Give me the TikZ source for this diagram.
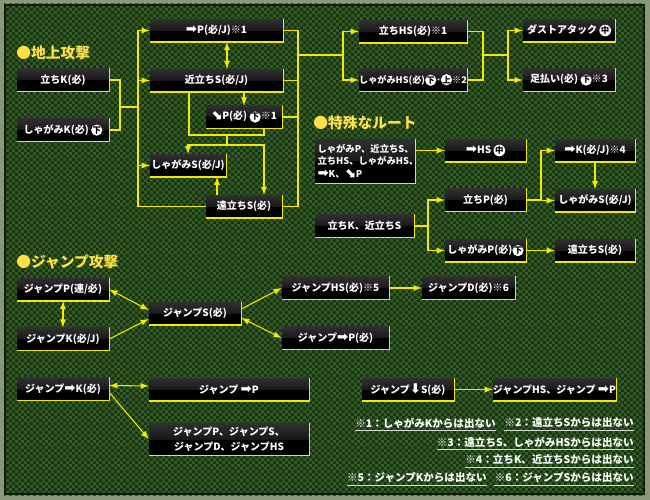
\documentclass[tikz,border=0pt]{standalone}
\usepackage{fontspec}
\setmainfont{Noto Sans CJK JP}
\newfontfamily\symfont{DejaVu Sans}
\usepackage{tikz}
\usetikzlibrary{patterns}
\definecolor{waku}{RGB}{139,151,122}
\definecolor{bgdark}{RGB}{26,52,18}
\definecolor{bgcheck}{RGB}{50,92,38}
\definecolor{hlyellow}{RGB}{242,234,0}
\definecolor{titleyellow}{RGB}{255,224,70}
\definecolor{boxshine}{RGB}{48,48,48}

\newcommand{\migi}{{\symfont\fontsize{7.6}{7}\selectfont ➡}}
\newcommand{\shita}{{\symfont\fontsize{7.6}{7}\selectfont ⬇}}
\newcommand{\naname}{{\symfont\fontsize{7.6}{7}\selectfont ⬊}}
\newcommand{\maru}[1]{\tikz[baseline=(m.base)] \node[circle, fill=white, text=black, inner sep=0pt, minimum size=6.4pt, font=\bfseries\fontsize{4.8}{4.8}\selectfont] (m) {#1};}

\pgfdeclarepatternformonly{ichimatsu}{\pgfpointorigin}{\pgfqpoint{3.4pt}{3.4pt}}{\pgfqpoint{3.4pt}{3.4pt}}{%
	\pgfpathrectangle{\pgfpointorigin}{\pgfqpoint{1.7pt}{1.7pt}}%
	\pgfpathrectangle{\pgfqpoint{1.7pt}{1.7pt}}{\pgfqpoint{1.7pt}{1.7pt}}%
	\pgfusepath{fill}}

\begin{document}
\begin{tikzpicture}[x=0.02cm, y=-0.02cm, >=latex,
	link/.style={hlyellow, line width=0.6pt},
	arr/.style={link, ->},
	darr/.style={link, <->},
	waza/.style={fill=black, text=white, inner sep=0pt, minimum height=0.45cm,
		font=\bfseries\fontsize{5.7}{6.8}\selectfont,
		path picture={\fill[top color=boxshine, bottom color=black] (path picture bounding box.north west) rectangle (path picture bounding box.east);}},
	midashi/.style={text=titleyellow, anchor=west, inner sep=0pt, font=\bfseries\fontsize{8.4}{9}\selectfont},
	chu/.style={text=white, anchor=east, inner sep=0pt, font=\bfseries\fontsize{6}{7}\selectfont}]
						\useasboundingbox (0,0) rectangle (650,500);
						\fill[waku] (0,0) rectangle (650,500);
						\fill[bgdark] (4,4) rectangle (645,495);
						\fill[pattern=ichimatsu, pattern color=bgcheck] (4,4) rectangle (645,495);
						\draw[black, opacity=0.6, line width=1.5pt] (5,5) rectangle (644,494);
						
						% 地上攻撃
						\node[midashi] (t1) at (16,53) {●地上攻撃};
						\node[waza, minimum width=1.84cm] (tK) at (63,80) {立ちK(必)};
						\node[waza, minimum width=1.84cm] (sK) at (63,130) {しゃがみK(必) \maru{下}};
						\node[waza, minimum width=2.66cm] (fP) at (216.5,30.5) {\migi P(必/J)※1};
						\node[waza, minimum width=2.66cm] (cS) at (216.5,80.5) {近立ちS(必/J)};
						\node[waza, minimum width=1.52cm] (dP) at (244,117) {\naname P(必) \maru{下}※1};
						\node[waza, minimum width=1.52cm] (sS) at (188,165.5) {しゃがみS(必/J)};
						\node[waza, minimum width=1.52cm] (fS) at (244,206.5) {遠立ちS(必)};
						\node[waza, minimum width=2.16cm] (tHS) at (413,31.5) {立ちHS(必)※1};
						\node[waza, minimum width=2.16cm, font=\bfseries\fontsize{5.2}{6}\selectfont] (sHS) at (413,80) {しゃがみHS(必)\maru{下}･\maru{上}※2};
						\node[waza, minimum width=1.84cm] (dust) at (569,30.5) {ダストアタック \maru{中}};
						\node[waza, minimum width=1.84cm] (ashi) at (569,80) {足払い(必) \maru{下}※3};
						
						% 特殊なルート
						\node[midashi] (t2) at (313,123) {●特殊なルート};
						\node[waza, text width=1.9cm, inner xsep=0.05cm, minimum height=0.88cm, align=left, font=\bfseries\fontsize{5.3}{7.2}\selectfont] (sp1) at (365,161) {しゃがみP、近立ちS、\\立ちHS、しゃがみHS、\\\migi K、\naname P};
						\node[waza, minimum width=1.62cm] (fHS) at (485.5,150.5) {\migi HS \maru{中}};
						\node[waza, minimum width=1.62cm] (tP) at (485.5,200) {立ちP(必)};
						\node[waza, minimum width=1.98cm] (tKcS) at (364.5,226) {立ちK、近立ちS};
						\node[waza, minimum width=1.62cm] (sP) at (485.5,250.5) {しゃがみP(必)\maru{下}};
						\node[waza, minimum width=1.6cm] (fK) at (595,150.5) {\migi K(必/J)※4};
						\node[waza, minimum width=1.6cm] (sS2) at (595,200.5) {しゃがみS(必/J)};
						\node[waza, minimum width=1.6cm] (fS2) at (595,250.5) {遠立ちS(必)};
						
						% ジャンプ攻撃
						\node[midashi] (t3) at (16,262) {●ジャンプ攻撃};
						\node[waza, minimum width=1.84cm] (jP) at (63,289.5) {ジャンプP(連/必)};
						\node[waza, minimum width=1.84cm] (jK) at (63,339) {ジャンプK(必/J)};
						\node[waza, minimum width=1.84cm] (jS) at (195,313.5) {ジャンプS(必)};
						\node[waza, minimum width=2.14cm] (jHS) at (335.5,288) {ジャンプHS(必)※5};
						\node[waza, minimum width=1.86cm] (jD) at (468.5,288) {ジャンプD(必)※6};
						\node[waza, minimum width=2.14cm] (jfP) at (335.5,338) {ジャンプ\migi P(必)};
						\node[waza, minimum width=1.84cm] (jfK) at (63,389) {ジャンプ\migi K(必)};
						\node[waza, minimum width=3.2cm] (jfP2) at (229,389.5) {ジャンプ \migi P};
						\node[waza, minimum width=3.2cm, minimum height=0.64cm, align=center, font=\bfseries\fontsize{5.7}{8.5}\selectfont] (jall) at (229,439) {ジャンプP、ジャンプS、\\ジャンプD、ジャンプHS};
						\node[waza, minimum width=1.84cm] (jdS) at (408,389.5) {ジャンプ\shita S(必)};
						\node[waza, minimum width=2.46cm] (jHSfP) at (554.5,389.5) {ジャンプHS、ジャンプ \migi P};
						
						\foreach \n in {tK,sK,fP,cS,dP,sS,fS,tHS,sHS,dust,ashi,sp1,fHS,tP,tKcS,sP,fK,sS2,fS2,jP,jK,jS,jHS,jD,jfP,jfK,jfP2,jall,jdS,jHSfP}
							\draw[hlyellow, line width=0.8pt] (\n.north east) -- (\n.south east) -- (\n.south west);
						
						\coordinate (j1) at (120,107);
						\coordinate (bL) at (138,107);
						\coordinate (m1) at (227,135);
						\coordinate (m2) at (227,145);
						\coordinate (bR) at (298,55);
						\coordinate (bR2) at (343,55);
						\coordinate (jR) at (483,55);
						\coordinate (bR3) at (508,55);
						\coordinate (bS) at (428,226);
						\coordinate (bS2) at (541,200);
						
						\draw[link] (tK.east) -| (j1) |- (sK.east);
						\draw[link] (j1) -- (bL);
						\draw[arr] (bL) |- (fP.west);
						\draw[arr] (bL) |- (cS.west);
						\draw[arr] (bL) |- (sS.west);
						\draw[link] (bL) |- (fS.west);
						\draw[darr] ([xshift=0.21cm]fP.south) -- ([xshift=0.21cm]cS.north);
						\draw[arr] (cS.south -| dP.north) -- (dP.north);
						\draw[link] ([xshift=-0.55cm]cS.south) |- (m1) -| ([xshift=0.4cm]dP.south);
						\draw[link] (m1) -- (m2);
						\draw[arr] (m2) -| (sS.north);
						\draw[arr] (m2) -| ([xshift=0.4cm]fS.north);
						\draw[arr] ([xshift=-0.54cm]fS.north) -- ([xshift=-0.54cm]fS.north |- sS.south);
						\draw[link] (fP.east) -| (bR) |- (fS.east);
						\draw[link] (cS.east) -- (cS.east -| bR);
						\draw[link] (dP.east) -- (dP.east -| bR);
						\draw[link] (bR) -- (bR2);
						\draw[arr] (bR2) |- (tHS.west);
						\draw[arr] (bR2) |- (sHS.west);
						\draw[link] (tHS.east) -| (jR) |- (sHS.east);
						\draw[link] (jR) -- (bR3);
						\draw[arr] (bR3) |- (dust.west);
						\draw[arr] (bR3) |- (ashi.west);
						
						\draw[arr] (sp1.east |- fHS.west) -- (fHS.west);
						\draw[link] (tKcS.east) -- (bS);
						\draw[arr] (bS) |- (tP.west);
						\draw[arr] (bS) |- (sP.west);
						\draw[link] (tP.east) -- (bS2);
						\draw[arr] (bS2) |- (fK.west);
						\draw[arr] (bS2) |- (sS2.west);
						\draw[arr] (fK.south) -- (sS2.north);
						\draw[arr] (sP.east) -- (fS2.west);
						
						\draw[darr] (jP.south) -- (jK.north);
						\draw[darr] (jP.east) -- ([yshift=0.07cm]jS.west);
						\draw[arr] (jK.east) -- ([yshift=-0.11cm]jS.west);
						\draw[arr] ([yshift=0.09cm]jS.east) -- (jHS.west);
						\draw[darr] ([yshift=-0.09cm]jS.east) -- (jfP.west);
						\draw[arr] (jHS.east) -- (jD.west);
						\draw[darr] ([yshift=0.07cm]jfK.east) -- ([yshift=0.07cm]jfP2.west);
						\draw[arr] ([yshift=-0.07cm]jfK.east) -- (jall.west);
						\draw[arr] (jdS.east) -- (jHSfP.west);
						
						% 注釈
						\node[chu] (n1a) at (496,423) {※1：しゃがみKからは出ない};
						\node[chu] (n1b) at (634,423) {※2：遠立ちSからは出ない};
						\node[chu] (n2) at (634,442) {※3：遠立ちS、しゃがみHSからは出ない};
						\node[chu] (n3) at (634,460) {※4：立ちK、近立ちSからは出ない};
						\node[chu] (n4a) at (487,478) {※5：ジャンプKからは出ない};
						\node[chu] (n4b) at (634,478) {※6：ジャンプSからは出ない};
						\foreach \n in {n1a,n1b,n2,n3,n4a,n4b}
							\draw[white!85!black, line width=0.5pt] ([yshift=-1pt]\n.south west) -- ([yshift=-1pt]\n.south east);
					\end{tikzpicture}
\end{document}
